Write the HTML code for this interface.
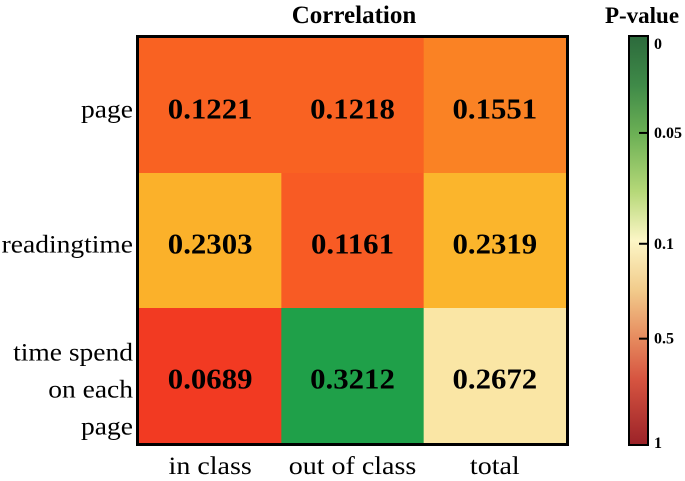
<!DOCTYPE html>
<html><head><meta charset="utf-8"><style>
body{margin:0;background:#fff;width:685px;height:476px;overflow:hidden}
svg text{font-family:"Liberation Serif",serif}
</style></head><body>
<svg id="c" width="685" height="476">
<defs><linearGradient id="g" x1="0" y1="0" x2="0" y2="1">
<stop offset="0" stop-color="#2C6A3C"/><stop offset="0.12" stop-color="#3F8A48"/>
<stop offset="0.24" stop-color="#6CB055"/><stop offset="0.38" stop-color="#B5D878"/>
<stop offset="0.5" stop-color="#FCF6C6"/><stop offset="0.62" stop-color="#F2CC8C"/>
<stop offset="0.74" stop-color="#E68A5E"/><stop offset="0.84" stop-color="#D65440"/>
<stop offset="1" stop-color="#9B2228"/></linearGradient></defs>
</svg>
<script>
const rows=["page","readingtime","time spend on each page"];
const cols=["in class","out of class","total"];
const values=[[0.1221,0.1218,0.1551],[0.2303,0.1161,0.2319],[0.0689,0.3212,0.2672]];
const cellColors=[["#F96222","#F96222","#FA8224"],["#FBB12A","#F85B24","#FBB52C"],["#F23A22","#1FA049","#FAE6A5"]];
const cbTicks=["0","0.05","0.1","0.5","1"];
const cbTickFrac=[0.02,0.237,0.508,0.74,0.995];
const svg=document.getElementById('c');
const NS="http://www.w3.org/2000/svg";
function mk(t,a,p){const e=document.createElementNS(NS,t);for(const k in a)e.setAttribute(k,a[k]);(p||svg).appendChild(e);return e;}
function stretch(t,f){const l=t.getComputedTextLength();t.setAttribute('textLength',l*f);t.setAttribute('lengthAdjust','spacingAndGlyphs');}
const X0=139,Y0=38,W=427,H=405;
const cw=W/cols.length,ch=H/rows.length;
const xs=i=>X0+i*cw, ys=j=>Y0+j*ch;
values.forEach((r,j)=>r.forEach((v,i)=>{
 const rc=mk('rect',{x:xs(i),y:ys(j),width:cw+0.5,height:ch+0.5,fill:cellColors[j][i]});
 
 
 const t=mk('text',{x:xs(i)+cw/2,y:ys(j)+ch/2+13,'text-anchor':'middle','font-size':28,'font-weight':'bold',fill:'#000'});
 t.textContent=v.toFixed(4);
 
 
 stretch(t,1.1);
}));
const b=mk('rect',{x:137.5,y:36.5,width:W+3,height:H+3,fill:'none',stroke:'#000','stroke-width':3});


const rowLines=[["page"],["readingtime"],["time spend","on each","page"]];
rowLines.forEach((ls,j)=>{ls.forEach((l,k)=>{
 const t=mk('text',{x:133,y:ys(j)+ch/2+12+(ls.length>1?10:0)+(k-(ls.length-1)/2)*37,'text-anchor':'end','font-size':25});
 t.textContent=l;
 
 
 stretch(t,1.1);
});});
cols.forEach((c,i)=>{
 const t=mk('text',{x:xs(i)+cw/2,y:474,'text-anchor':'middle','font-size':25});
 t.textContent=c;
 
 
 stretch(t,1.12);
});
const tt=mk('text',{x:354,y:23,'text-anchor':'middle','font-size':25,'font-weight':'bold'});
tt.textContent="Correlation";


const pt=mk('text',{x:642,y:23,'text-anchor':'middle','font-size':23,'font-weight':'bold'});
pt.textContent="P-value";


const CB0=36,CBH=409;
const cb=mk('rect',{x:629,y:CB0,width:19,height:CBH,fill:'url(#g)',stroke:'#000','stroke-width':2});


cbTicks.forEach((l,k)=>{
 const y=CB0+cbTickFrac[k]*CBH;
 if(k>0&&k<cbTicks.length-1){const ln=mk('line',{x1:639,x2:648,y1:y,y2:y,stroke:'#000','stroke-width':2});
 
 }
 const t=mk('text',{x:654,y:y+5,'font-size':16,'font-weight':'bold'});
 t.textContent=l;
 
 
});
</script>
</body></html>
